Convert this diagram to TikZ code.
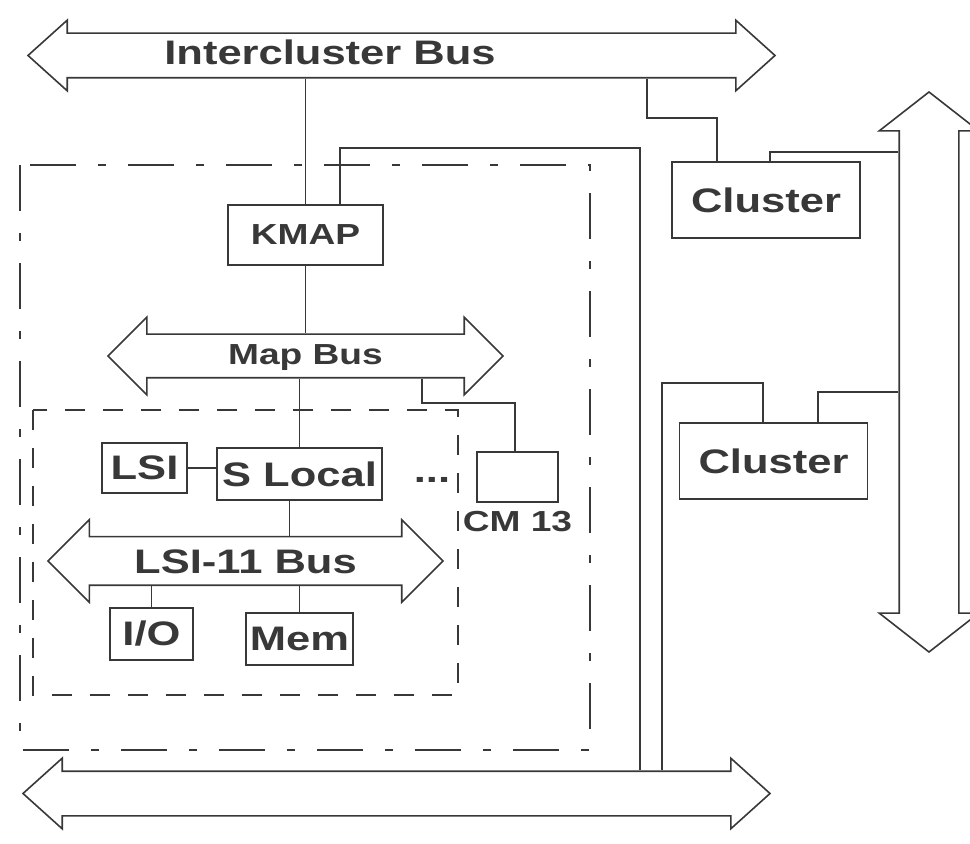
\documentclass[tikz,border=0pt]{standalone}
\usepackage{fontspec}
\setmainfont{Liberation Sans}[FakeStretch=1.28]
\usetikzlibrary{positioning,shapes.arrows}
\definecolor{ink}{gray}{0.22}
\newcommand{\diagbig}{\fontsize{17}{20}\selectfont\bfseries}
\newcommand{\diagsmall}{\fontsize{14.5}{17}\selectfont\bfseries}

\begin{document}
\begin{tikzpicture}[
    x=0.5pt, y=-0.5pt,
    font=\diagbig,
    every node/.style={align=center, text=ink},
    box/.style={draw=ink, line width=0.8pt, inner sep=2pt},
    unit/.style={box, minimum height=26pt},
    clusterbox/.style={box, minimum width=94pt, minimum height=38pt},
    bus/.style={double arrow, draw=ink, line width=0.8pt, inner xsep=1pt, inner ysep=0pt},
    link/.style={draw=ink, line width=0.8pt},
    cmframe/.style={draw=ink, line width=0.9pt, dash pattern=on 23pt off 11pt on 4pt off 11pt},
    lsiframe/.style={draw=ink, line width=0.8pt, dash pattern=on 10pt off 9pt},
]
\useasboundingbox (0,0) rectangle (970,844);

% --- Buses ---
\node[bus, minimum height=373.5pt, minimum width=34.5pt, double arrow head extend=6.5pt,
      double arrow tip angle=84, text height=21.5pt, text depth=0pt] (icb) at (401.5,55.5) {};
\node (icbtxt) at (330,52) {Intercluster Bus};
\node[bus, minimum height=373.5pt, minimum width=34.5pt, double arrow head extend=6.5pt,
      double arrow tip angle=84, text height=21.5pt, text depth=0pt] (bbus) at (396.5,793.5) {};
\node[bus, rotate=90, minimum height=280pt, minimum width=49pt, double arrow head extend=10pt,
      double arrow tip angle=104, text height=29pt, text depth=0pt] (vbus) at (929,372) {};

% --- Cm frame (dash dot) with KMAP and Map Bus ---
\draw[cmframe] (20,165) rectangle (590,750);
\node[box, minimum width=77.5pt, minimum height=30pt, font=\diagsmall] (kmap) at (305.5,235) {KMAP};
\node[bus, minimum height=197.5pt, minimum width=38pt, double arrow head extend=8.5pt,
      text height=15pt, text depth=6pt, font=\diagsmall] (mbus) at (305.5,356) {Map Bus};

% --- LSI-11 module (dashed) ---
\draw[lsiframe] (33,410) rectangle (458,695);
\node[unit, minimum width=42.5pt, minimum height=25pt] (lsi) at (144.5,468) {LSI};
\node[unit, minimum width=82.5pt] (slocal) at (299.5,474) {S Local};
\node[bus, minimum height=197.5pt, minimum width=40.5pt, double arrow head extend=8.5pt,
      text height=17.8pt, text depth=5.7pt] (lbus) at (245.5,561) {LSI-11 Bus};
\node[unit, minimum width=41.5pt] (io) at (151.5,634) {I/O};
\node[unit, minimum width=52.5pt] (mem) at (299.5,639) {Mem};
\node[inner sep=0pt] (dots) at (432,480) {...};

% --- CM 13 ---
\node[box, minimum width=40.5pt, minimum height=25pt] (cm) at (517.5,477) {};
\node[font=\diagsmall, inner sep=1pt, below=3pt of cm] (cmtxt) {CM 13};

% --- Other clusters ---
\node[clusterbox] (clu1) at (766,200) {Cluster};
\node[clusterbox] (clu2) at (773.5,461) {Cluster};

% --- Bend points ---
\coordinate (kup)  at (340,148);
\coordinate (kdn)  at (640,148);
\coordinate (c1a)  at (647,118);
\coordinate (c1b)  at (717,118);
\coordinate (c1c)  at (770,152);
\coordinate (c2a)  at (763,383);
\coordinate (c2b)  at (662,383);
\coordinate (c2c)  at (818,392);
\coordinate (cma)  at (422,403);
\coordinate (cmb)  at (515,403);

% --- Links ---
\draw[link] (icb.south -| kmap.north) -- (kmap.north);
\draw[link] (kmap.north -| kup) -- (kup) -- (kdn) -- (kdn |- bbus.north);
\draw[link] (icb.south -| c1a) -- (c1a) -- (c1b) -- (c1b |- clu1.north);
\draw[link] (clu1.north -| c1c) -- (c1c) -- (c1c -| vbus.north);
\draw[link] (clu2.north -| c2a) -- (c2a) -- (c2b) -- (c2b |- bbus.north);
\draw[link] (clu2.north -| c2c) -- (c2c) -- (c2c -| vbus.north);
\draw[link] (kmap.south) -- (kmap.south |- mbus.north);
\draw[link] (mbus.south -| slocal.north) -- (slocal.north);
\draw[link] (mbus.south -| cma) -- (cma) -- (cmb) -- (cmb |- cm.north);
\draw[link] (lsi.east) -- (lsi.east -| slocal.west);
\draw[link] ([xshift=-5pt]slocal.south) -- ([xshift=-5pt]slocal.south |- lbus.north);
\draw[link] (lbus.south -| io.north) -- (io.north);
\draw[link] (lbus.south -| mem.north) -- (mem.north);

\end{tikzpicture}
\end{document}
